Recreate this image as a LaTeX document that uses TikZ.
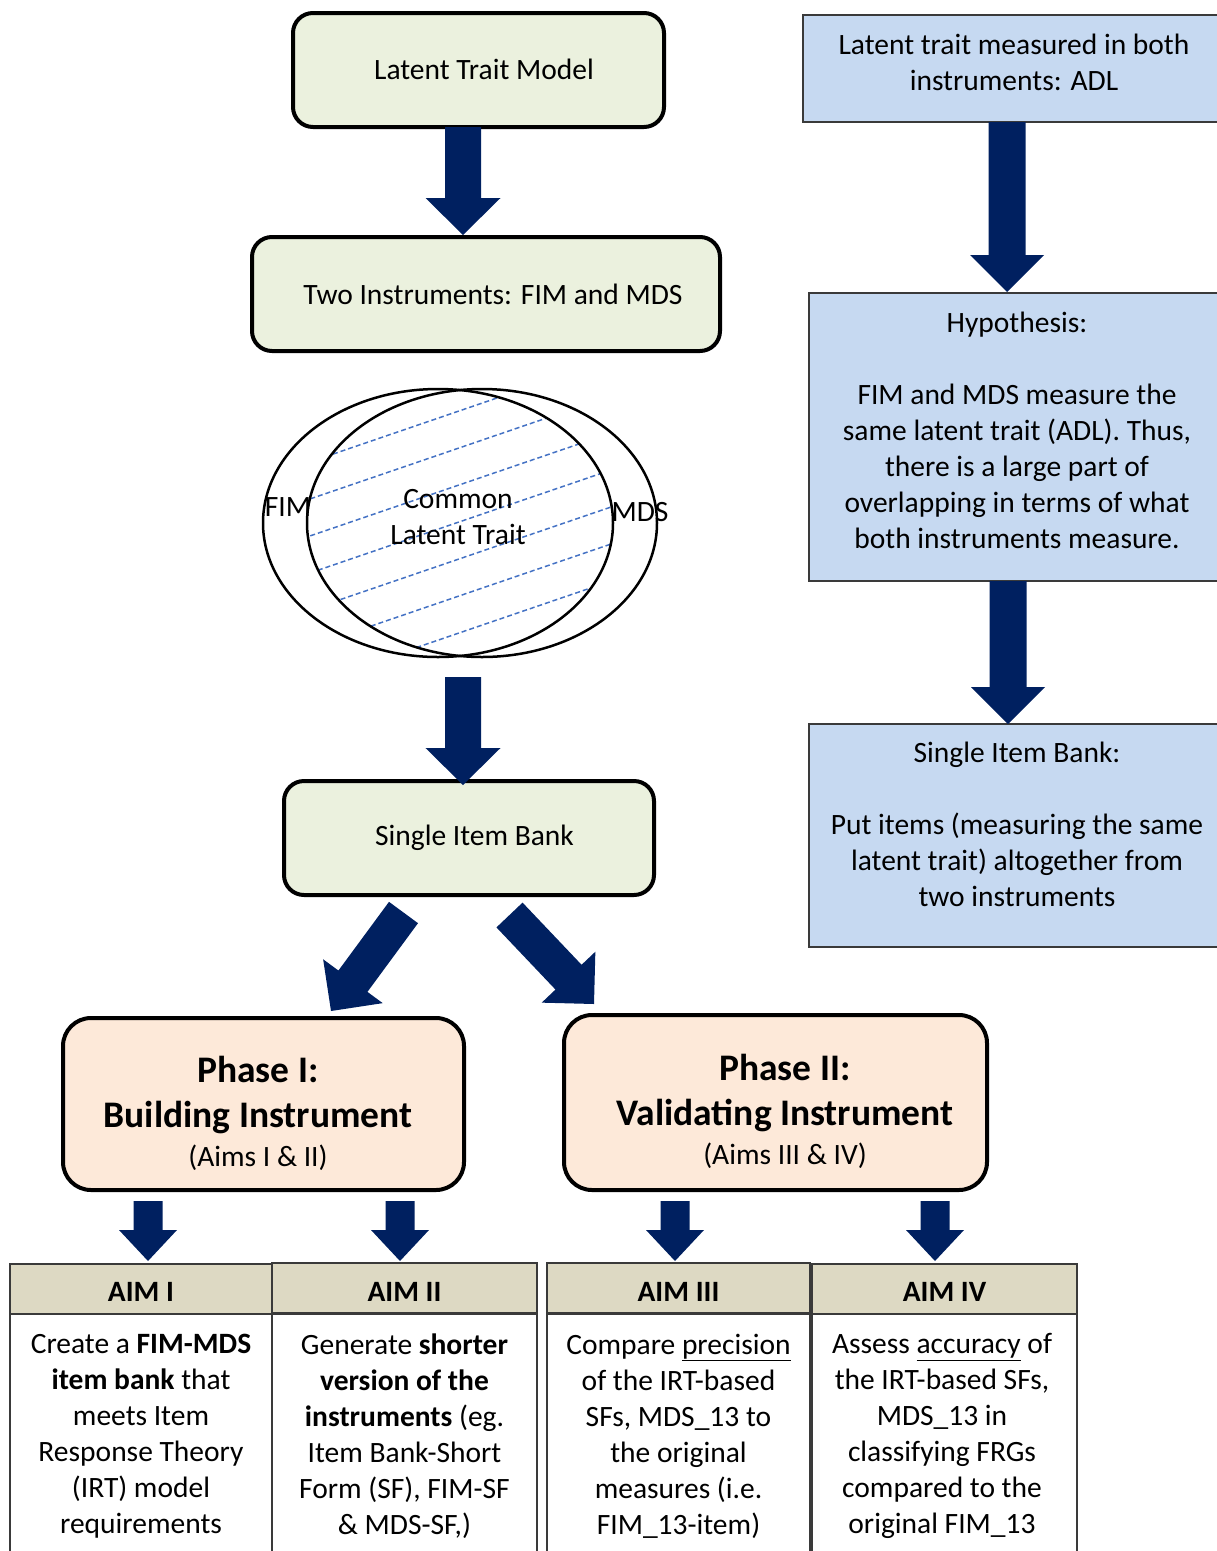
\documentclass[tikz,border=0pt]{standalone}
\usepackage{fontspec}
\setmainfont{Carlito}
\usetikzlibrary{calc}

\definecolor{navy}{HTML}{002060}
\definecolor{boxgreen}{HTML}{EBF1DE}
\definecolor{boxblue}{HTML}{C6D9F1}
\definecolor{boxpeach}{HTML}{FDE9D9}
\definecolor{boxtan}{HTML}{DDD9C3}
\definecolor{hatchblue}{HTML}{4472C4}
\definecolor{edgegray}{HTML}{3A3A3A}

% block arrow: start, tip, shaft half width, head half width, head length
\newcommand\blockarrow[5]{%
  \fill[navy] ($(#1)!#3!90:(#2)$)
    -- ($(#2)!#5!(#1)!#3!90:(#2)$)
    -- ($(#2)!#5!(#1)!#4!90:(#2)$)
    -- (#2)
    -- ($(#2)!#5!(#1)!#4!-90:(#2)$)
    -- ($(#2)!#5!(#1)!#3!-90:(#2)$)
    -- ($(#1)!#3!-90:(#2)$) -- cycle;}

\begin{document}
\begin{tikzpicture}[x=1pt,y=-1pt,
  every node/.style={font=\fontsize{29.5}{36}\selectfont, inner sep=0pt, align=center},
  greenbox/.style={draw=black, line width=4pt, rounded corners=20pt, fill=boxgreen},
  bluebox/.style={draw=edgegray, line width=1.5pt, fill=boxblue},
  phasebox/.style={draw=black, line width=4pt, rounded corners=28pt, fill=boxpeach},
  aimhead/.style={draw=edgegray, line width=1.5pt, fill=boxtan},
  aimlabel/.style={font=\fontsize{29.5}{36}\selectfont\bfseries},
  aimbody/.style={draw=edgegray, line width=1.5pt, fill=white},
  venn/.style={draw=black, line width=2.5pt},
  hatch/.style={draw=hatchblue, line width=1.5pt, dash pattern=on 5pt off 3pt},
  phasetext/.style={font=\fontsize{37.5}{45}\selectfont\bfseries}]

\useasboundingbox (0,0) rectangle (1217,1551);
\clip (0,0) rectangle (1217,1551);

% ---------- left column ----------
\node[greenbox, minimum width=371pt, minimum height=114pt] (ltm) at (478.5,70) {};
\node (ltmt) at (484,69) {Latent Trait Model};
\node[greenbox, minimum width=468pt, minimum height=114pt] (two) at (486,294) {};
\node (twot) at (493,294) {Two Instruments: FIM and MDS};

% overlapping instruments
\begin{scope}
  \clip (438,523) ellipse [x radius=175pt, y radius=134pt];
  \clip (482,523) ellipse [x radius=175pt, y radius=134pt];
  \foreach \k in {-4,...,6}
    \draw[hatch] (280,{509.2+37*\k}) -- (640,{386.1+37*\k});
\end{scope}
\draw[venn] (438,523) ellipse [x radius=175pt, y radius=134pt];
\draw[venn] (482,523) ellipse [x radius=175pt, y radius=134pt];
\node (fim) at (288,507) {FIM};
\node (mds) at (640,512) {MDS};
\node (common) at (458,517) {Common\\Latent Trait};

\node[greenbox, minimum width=370pt, minimum height=114pt] (sib) at (469,838) {};
\node (sibt) at (474.5,838) {Single Item Bank};

% ---------- right column ----------
\node[bluebox, minimum width=422pt, minimum height=107pt] (r1) at (1014,68.5) {};
\node (r1t) at (1014,62) {Latent trait measured in both\\instruments: ADL};
\node[bluebox, minimum width=416pt, minimum height=288pt] (r2) at (1017,437) {};
\node (r2t) at (1017,430) {Hypothesis:\\[36pt]FIM and MDS measure the\\same latent trait (ADL). Thus,\\there is a large part of\\overlapping in terms of what\\both instruments measure.};
\node[bluebox, minimum width=416pt, minimum height=223pt] (r3) at (1017,835.5) {};
\node (r3t) at (1017,824) {Single Item Bank:\\[36pt]Put items (measuring the same\\latent trait) altogether from\\two instruments};

% ---------- phases ----------
\node[phasebox, minimum width=401pt, minimum height=172pt] (p1) at (263.5,1104) {};
\node[phasetext] (p1t) at (258,1113) {Phase I:\\Building Instrument\\[-6pt]{\fontsize{29.5}{36}\selectfont\mdseries (Aims I \& II)}};
\node[phasebox, minimum width=423pt, minimum height=175pt] (p2) at (775.5,1102.5) {};
\node[phasetext] (p2t) at (785,1111) {Phase II:\\Validating Instrument\\[-6pt]{\fontsize{29.5}{36}\selectfont\mdseries (Aims III \& IV)}};

% ---------- aims ----------
\node[aimbody, minimum width=262pt, minimum height=286pt] (b1) at (141,1457) {};
\node[aimbody, minimum width=265pt, minimum height=286pt] (b2) at (404.5,1457) {};
\node[aimbody, minimum width=263pt, minimum height=286pt] (b3) at (678.5,1457) {};
\node[aimbody, minimum width=265pt, minimum height=286pt] (b4) at (944.5,1457) {};
\node[aimhead, minimum width=262pt, minimum height=50pt] (h1) at (141,1289) {};
\node[aimhead, minimum width=265pt, minimum height=50pt] (h2) at (404.5,1288) {};
\node[aimhead, minimum width=263pt, minimum height=50pt] (h3) at (678.5,1288) {};
\node[aimhead, minimum width=265pt, minimum height=50pt] (h4) at (944.5,1289) {};
\node[aimlabel] (h1t) at (141,1292) {AIM I};
\node[aimlabel] (h2t) at (404.5,1292) {AIM II};
\node[aimlabel] (h3t) at (678.5,1292) {AIM III};
\node[aimlabel] (h4t) at (944.5,1292) {AIM IV};

\node (t1) at (141,1436) {Create a \textbf{FIM-MDS}\\\textbf{item bank} that\\meets Item\\Response Theory\\(IRT) model\\requirements};
\node (t2) at (404.5,1436) {Generate \textbf{shorter}\\\textbf{version of the}\\\textbf{instruments} (eg.\\Item Bank-Short\\Form (SF), FIM-SF\\\& MDS-SF,)};
\node (t3) at (678.5,1436) {Compare \underline{precision}\\of the IRT-based\\SFs, MDS\_13 to\\the original\\measures (i.e.\\FIM\_13-item)};
\node (t4) at (942,1436) {Assess \underline{accuracy} of\\the IRT-based SFs,\\MDS\_13 in\\classifying FRGs\\compared to the\\original FIM\_13};

% ---------- arrow end points ----------
\coordinate (a1s) at (463,127);    \coordinate (a1e) at (463,235);
\coordinate (a2s) at (463,677);    \coordinate (a2e) at (463,785);
\coordinate (ra1s) at (1007,122);  \coordinate (ra1e) at (1007,292);
\coordinate (ra2s) at (1008,581);  \coordinate (ra2e) at (1008,724);
\coordinate (dls) at (403.5,912.5); \coordinate (dle) at (331,1011);
\coordinate (drs) at (509.5,915);  \coordinate (dre) at (594,1004);
\coordinate (s1s) at (148,1201);   \coordinate (s1e) at (148,1261);
\coordinate (s2s) at (400,1201);   \coordinate (s2e) at (400,1261);
\coordinate (s3s) at (675,1201);   \coordinate (s3e) at (675,1261);
\coordinate (s4s) at (935,1201);   \coordinate (s4e) at (935,1261);

\blockarrow{a1s}{a1e}{18pt}{37.5pt}{37pt}
\blockarrow{a2s}{a2e}{18pt}{37.5pt}{37pt}
\blockarrow{ra1s}{ra1e}{18.5pt}{37pt}{37pt}
\blockarrow{ra2s}{ra2e}{18.5pt}{37pt}{37pt}
\blockarrow{dls}{dle}{18pt}{37pt}{37pt}
\blockarrow{drs}{dre}{18pt}{37pt}{37pt}
\blockarrow{s1s}{s1e}{14.5pt}{29pt}{31pt}
\blockarrow{s2s}{s2e}{14.5pt}{29pt}{31pt}
\blockarrow{s3s}{s3e}{14.5pt}{29pt}{31pt}
\blockarrow{s4s}{s4e}{14.5pt}{29pt}{31pt}

\end{tikzpicture}
\end{document}
